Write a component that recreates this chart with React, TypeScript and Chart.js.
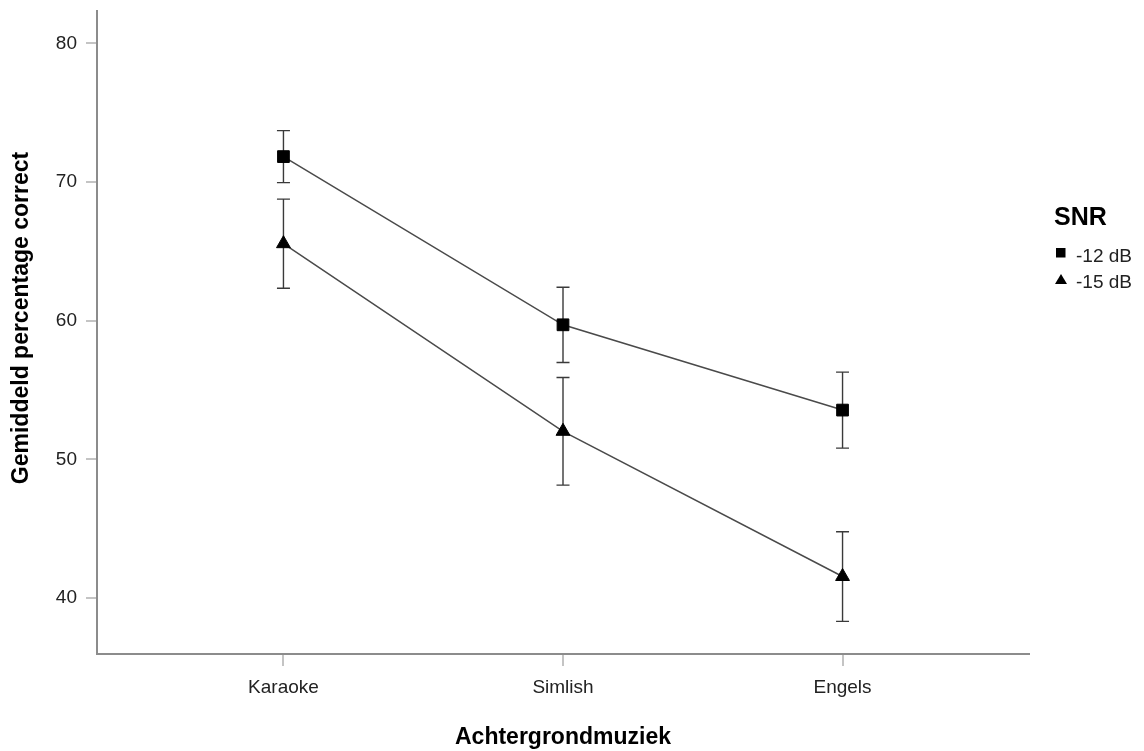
import React, { useEffect, useRef } from 'react';
import { Chart, registerables } from 'chart.js';

Chart.register(...registerables);

// ---- data ----
const categories = ['Karaoke', 'Simlish', 'Engels'];
const seriesLabels = ['-12 dB', '-15 dB'];
const mean12 = [71.83, 59.7, 53.55];
const lower12 = [69.95, 56.98, 50.81];
const upper12 = [73.7, 62.41, 56.29];
const mean15 = [65.55, 52.02, 41.55];
const lower15 = [62.34, 48.14, 38.31];
const upper15 = [68.76, 55.9, 44.78];
const yTicks = [40, 50, 60, 70, 80];
const xTitle = 'Achtergrondmuziek';
const yTitle = 'Gemiddeld percentage correct';
const legendTitle = 'SNR';

const FONT = "'Liberation Sans', Arial, Helvetica, sans-serif";

const errorBarPlugin = {
  id: 'errorBars',
  beforeDatasetsDraw(chart: any) {
    const ctx = chart.ctx;
    const xs = chart.scales.x;
    const ys = chart.scales.y;
    chart.data.datasets.forEach((ds: any) => {
      const lo: number[] = ds.errLower;
      const hi: number[] = ds.errUpper;
      ds.data.forEach((pt: any, j: number) => {
        const x = xs.getPixelForValue(pt.x);
        const y1 = ys.getPixelForValue(lo[j]);
        const y2 = ys.getPixelForValue(hi[j]);
        ctx.save();
        ctx.strokeStyle = '#3a3a3a';
        ctx.lineWidth = 1.4;
        ctx.beginPath();
        ctx.moveTo(x, y1);
        ctx.lineTo(x, y2);
        ctx.moveTo(x - 6.5, y1);
        ctx.lineTo(x + 6.5, y1);
        ctx.moveTo(x - 6.5, y2);
        ctx.lineTo(x + 6.5, y2);
        ctx.stroke();
        ctx.restore();
      });
    });
  },
};

const textPlugin = {
  id: 'sideLegend',
  afterDraw(chart: any) {
    const ctx = chart.ctx;
    ctx.save();
    // y axis title
    ctx.save();
    ctx.translate(22, 318);
    ctx.rotate(-Math.PI / 2);
    ctx.textAlign = 'center';
    ctx.textBaseline = 'middle';
    ctx.fillStyle = '#000';
    ctx.font = `bold 23px ${FONT}`;
    ctx.fillText(yTitle, 0, 0);
    ctx.restore();
    // legend
    ctx.fillStyle = '#000';
    ctx.textAlign = 'left';
    ctx.textBaseline = 'alphabetic';
    ctx.font = `bold 25px ${FONT}`;
    ctx.fillText(legendTitle, 1054, 225);
    ctx.font = `19px ${FONT}`;
    ctx.textBaseline = 'middle';
    ctx.fillStyle = '#000';
    ctx.fillRect(1056, 248, 9.5, 9.5);
    ctx.fillStyle = '#222';
    ctx.fillText(seriesLabels[0], 1076, 257);
    ctx.fillStyle = '#000';
    ctx.beginPath();
    ctx.moveTo(1061, 274);
    ctx.lineTo(1067, 284);
    ctx.lineTo(1055, 284);
    ctx.closePath();
    ctx.fill();
    ctx.fillStyle = '#222';
    ctx.fillText(seriesLabels[1], 1076, 283);
    ctx.restore();
  },
};

export default function App() {
  const ref = useRef<HTMLCanvasElement | null>(null);

  useEffect(() => {
    document.body.style.margin = '0';
    if (!ref.current) return;
    const mk = (arr: number[]) => arr.map((v, i) => ({ x: i, y: v }));
    const chart = new Chart(ref.current, {
      type: 'line',
      data: {
        datasets: [
          {
            label: seriesLabels[0],
            data: mk(mean12),
            errLower: lower12,
            errUpper: upper12,
            borderColor: '#4a4a4a',
            borderWidth: 1.5,
            pointStyle: 'rect',
            pointRadius: 8.3,
            pointBackgroundColor: '#000',
            pointBorderColor: '#000',
            pointBorderWidth: 1,
            tension: 0,
          } as any,
          {
            label: seriesLabels[1],
            data: mk(mean15),
            errLower: lower15,
            errUpper: upper15,
            borderColor: '#4a4a4a',
            borderWidth: 1.5,
            pointStyle: 'triangle',
            pointRadius: 8,
            pointBackgroundColor: '#000',
            pointBorderColor: '#000',
            pointBorderWidth: 1,
            tension: 0,
          } as any,
        ],
      },
      options: {
        responsive: false,
        animation: false,
        layout: { padding: { top: 11, right: 115, left: 0, bottom: 0 } },
        plugins: {
          legend: { display: false },
          tooltip: { enabled: false },
        },
        scales: {
          x: {
            type: 'linear',
            min: -0.667,
            max: 2.667,
            afterFit: (s: any) => {
              s.height = 97;
              s.paddingLeft = 0;
              s.paddingRight = 0;
            },
            afterBuildTicks: (s: any) => {
              s.ticks = categories.map((_, i) => ({ value: i }));
            },
            ticks: {
              callback: (v: any) => categories[v] ?? '',
              font: { family: FONT, size: 19 },
              color: '#222',
              padding: 10,
              maxRotation: 0,
              autoSkip: false,
            },
            grid: {
              display: true,
              drawOnChartArea: false,
              drawTicks: true,
              tickLength: 12,
              color: '#c4c4c4',
              lineWidth: 2,
            },
            border: { display: true, color: '#8c8c8c', width: 2 },
            title: {
              display: true,
              text: xTitle,
              font: { family: FONT, size: 23, weight: 'bold' },
              color: '#000',
              padding: { top: 0, bottom: 0 },
            },
          },
          y: {
            type: 'linear',
            min: 35.96,
            max: 82.33,
            afterFit: (s: any) => {
              s.width = 97;
              s.paddingTop = 0;
              s.paddingBottom = 0;
            },
            afterBuildTicks: (s: any) => {
              s.ticks = yTicks.map((v) => ({ value: v }));
            },
            ticks: {
              font: { family: FONT, size: 19 },
              color: '#222',
              padding: 9,
            },
            grid: {
              display: true,
              drawOnChartArea: false,
              drawTicks: true,
              tickLength: 11,
              color: '#c4c4c4',
              lineWidth: 2,
            },
            border: { display: true, color: '#8c8c8c', width: 2 },
            title: { display: false },
          },
        },
      } as any,
      plugins: [errorBarPlugin, textPlugin],
    });
    return () => chart.destroy();
  }, []);

  return (
    <div style={{ width: 1144, height: 751 }}>
      <canvas ref={ref} width={1144} height={751} style={{ display: 'block' }} />
    </div>
  );
}
